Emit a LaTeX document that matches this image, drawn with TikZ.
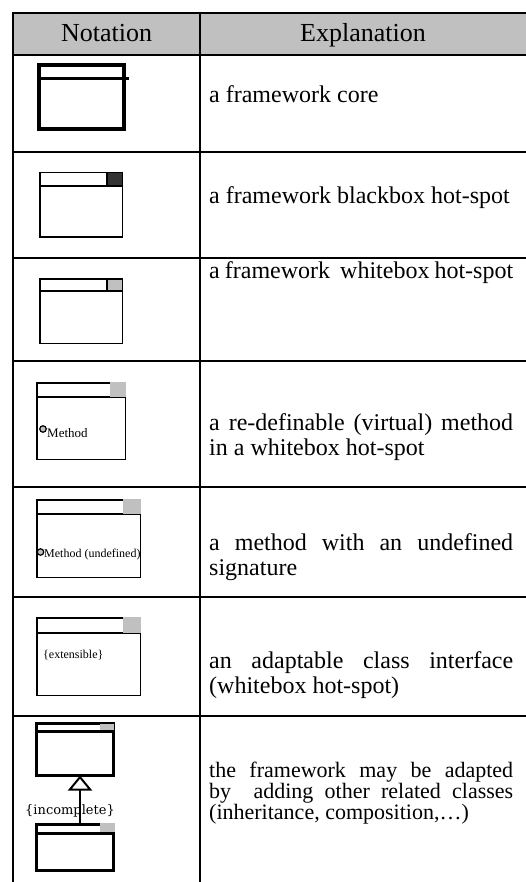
\documentclass[tikz,border=0pt]{standalone}
\usepackage{fontspec}
\setmainfont{Liberation Serif}
\newfontfamily\bracefont{DejaVu Serif}
\usetikzlibrary{arrows.meta}
\definecolor{hotgray}{HTML}{C0C0C0}
\definecolor{hotblack}{HTML}{333333}

\begin{document}
\begin{tikzpicture}[
  x=1pt, y=-1pt,
  rule/.style={line width=2pt},
  headtext/.style={anchor=base, inner sep=0pt, font=\fontsize{26}{28}\selectfont},
  expl/.style={anchor=base west, inner sep=0pt, text width=304pt, align=justify,
               font=\fontsize{24}{25.5}\selectfont},
  classbox/.style={draw, line width=1.5pt, inner sep=0pt, outer sep=0pt},
  member/.style={anchor=base west, inner sep=0pt, font=\fontsize{12}{13}\selectfont},
  dot/.style={circle, draw, fill=hotgray, line width=1.2pt, inner sep=0pt, minimum size=6.5pt},
  inherit/.style={line width=2pt, -{Triangle[open, length=15pt, width=24pt]}},
]
\useasboundingbox (0,0) rectangle (526,882);
% table grid
\fill[hotgray] (13,13) rectangle (526,55);
\foreach \y in {13,55,152,258,361,487,597,716}
  \draw[rule] (12,\y) -- (526,\y);
\draw[rule] (13,12) -- (13,882);
\draw[rule] (200,12) -- (200,882);
\node[headtext] (hn) at (106.5,42) {Notation};
\node[headtext] (he) at (363,42) {Explanation};

% framework core
\node[classbox, line width=4pt, minimum width=85pt, minimum height=64pt] (core) at (81.5,97) {};
\draw[line width=3pt] (37,79) -- (129,79);
\node[expl] (t1) at (209,103) {a framework core};

% blackbox hot-spot
\node[classbox, minimum width=82.5pt, minimum height=64.5pt] (black) at (81,205) {};
\draw[line width=1.5pt] (39,186) -- (123,186);
\filldraw[fill=hotblack, line width=1.5pt] (107,172.75) rectangle (122.25,186);
\node[expl] (t2) at (209,204) {a framework blackbox hot-spot};

% whitebox hot-spot
\node[classbox, minimum width=82.5pt, minimum height=64.5pt] (white) at (81,311) {};
\draw[line width=1.5pt] (39,291) -- (123,291);
\filldraw[fill=hotgray, line width=1.5pt] (107,278.75) rectangle (122.25,291);
\node[expl] (t3) at (209,279) {a framework~ whitebox hot-spot};

% re-definable method
\node[classbox, minimum width=88.5pt, minimum height=76.5pt] (virt) at (81,421) {};
\draw[line width=1.5pt] (36,397) -- (126,397);
\fill[hotgray] (110,382) rectangle (126,396.5);
\node[dot] (vdot) at (43,429) {};
\node[member, font=\fontsize{13}{14}\selectfont] (vm) at (47,437) {Method};
\node[expl] (t4) at (209,430) {a re-definable (virtual) method\linebreak in a whitebox hot-spot};

% undefined signature
\node[classbox, minimum width=103.5pt, minimum height=77.5pt] (undef) at (88.5,538.5) {};
\draw[line width=1.5pt] (36,514) -- (141,514);
\fill[hotgray] (123,499) rectangle (141,513.5);
\node[dot] (udot) at (40.5,552) {};
\node[member] (um) at (44,557) {Method (undefined)};
\node[expl] (t5) at (209,550) {a method with an undefined\linebreak signature};

% adaptable interface
\node[classbox, minimum width=103.5pt, minimum height=77.5pt] (ext) at (88.5,656.5) {};
\draw[line width=1.5pt] (36,633) -- (141,633);
\fill[hotgray] (123,617) rectangle (141,632.5);
\node[member] (em) at (43,658) {\{extensible\}};
\node[expl] (t6) at (209,668) {an adaptable class interface\linebreak (whitebox hot-spot)};

% adding related classes
\node[classbox, line width=3pt, minimum width=77pt, minimum height=52pt] (sup) at (75,749.5) {};
\draw[line width=3pt] (35,731) -- (115,731);
\fill[hotgray] (100,723.5) rectangle (113.5,729.5);
\node[classbox, line width=3pt, minimum width=77pt, minimum height=46pt] (sub) at (75,847.5) {};
\draw[line width=3pt] (35,833) -- (115,833);
\fill[hotgray] (100,823) rectangle (115,831.5);
\draw[inherit] ([xshift=5pt]sub.north) -- ([xshift=5pt]sup.south);
\node[anchor=base, inner sep=0pt, font=\bracefont\fontsize{13}{14}\selectfont] (inc) at (70,814) {\{incomplete\}};
\node[expl, font=\fontsize{22}{20}\selectfont] (t7) at (209,777)
  {the framework may be adapted\linebreak by~ adding other related classes\linebreak (inheritance, composition,…)};
\end{tikzpicture}
\end{document}
